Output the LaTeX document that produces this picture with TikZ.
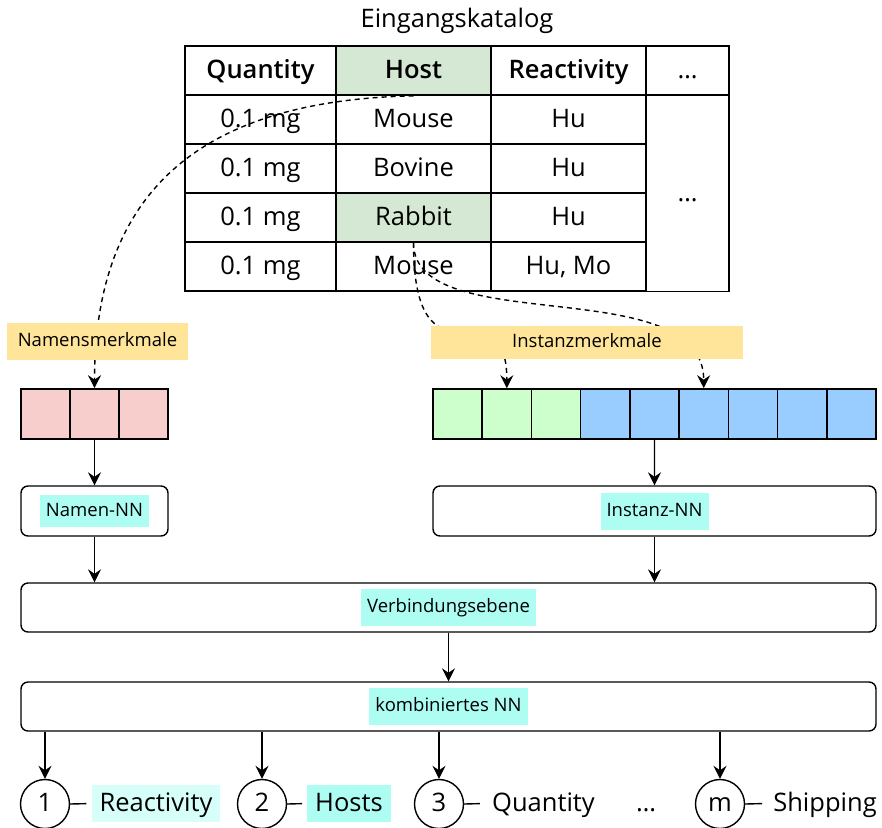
\documentclass[tikz,border=0pt]{standalone}
\usepackage{fontspec}
\setmainfont{Open Sans}
% semibold face for the table header, with bold as fallback
\IfFontExistsTF{Open Sans SemiBold}
  {\newfontfamily\headfont{Open Sans SemiBold}}
  {\IfFontExistsTF{Open Sans Semibold}
    {\newfontfamily\headfont{Open Sans Semibold}}
    {\newcommand\headfont{\bfseries}}}
\usetikzlibrary{arrows.meta}
\definecolor{hostgreen}{HTML}{D5E8D4}
\definecolor{featyellow}{HTML}{FFE599}
\definecolor{namepink}{HTML}{F8CECC}
\definecolor{instgreen}{HTML}{CCFFCC}
\definecolor{instblue}{HTML}{99CCFF}
\definecolor{tagcyan}{HTML}{AEFDF3}
\definecolor{tagpale}{HTML}{D6FFFA}
\begin{document}
\begin{tikzpicture}[x=1pt,y=-1pt,
  big/.style={font=\fontsize{25.5}{30}\selectfont, text height=19pt, text depth=4pt},
  small/.style={font=\fontsize{18.5}{22}\selectfont, text height=13.8pt, text depth=3pt},
  cell/.style={draw, line width=1.6pt, minimum height=49pt, inner sep=0pt, big},
  head/.style={cell, font=\fontsize{25.5}{30}\selectfont\headfont},
  vec/.style={draw, line width=1.6pt, minimum width=49.2pt, minimum height=50pt, inner sep=0pt},
  feat/.style={fill=featyellow, inner sep=0pt, small},
  nnbox/.style={draw, line width=1.4pt, rounded corners=7pt, inner sep=0pt},
  tag/.style={fill=tagcyan, inner xsep=6pt, inner ysep=0pt, minimum height=37pt, small},
  outc/.style={draw, circle, line width=1.4pt, minimum size=49pt, inner sep=0pt, big},
  outl/.style={inner xsep=8pt, inner ysep=0pt, minimum height=37pt, big},
  arr/.style={line width=1.4pt, -{Stealth[length=13pt, width=13pt, inset=4.5pt]}},
  darr/.style={arr, dash pattern=on 5pt off 4pt},
  dline/.style={line width=1.4pt}
]
\useasboundingbox (0,0) rectangle (882,827);

% input catalogue
\node[big] (title) at (457,20) {Eingangskatalog};

\node[head, minimum width=151pt] (hq) at (260.5,70.5) {Quantity};
\node[head, minimum width=155pt, fill=hostgreen] (hh) at (413.5,70.5) {Host};
\node[head, minimum width=155pt] (hr) at (568.5,70.5) {Reactivity};
\node[cell, minimum width=83pt] (he) at (687.5,70.5) {…};

\node[cell, minimum width=151pt] (q1) at (260.5,119.5) {0.1 mg};
\node[cell, minimum width=155pt] (h1) at (413.5,119.5) {Mouse};
\node[cell, minimum width=155pt] (r1) at (568.5,119.5) {Hu};
\node[cell, minimum width=151pt] (q2) at (260.5,168.5) {0.1 mg};
\node[cell, minimum width=155pt] (h2) at (413.5,168.5) {Bovine};
\node[cell, minimum width=155pt] (r2) at (568.5,168.5) {Hu};
\node[cell, minimum width=151pt] (q3) at (260.5,217.5) {0.1 mg};
\node[cell, minimum width=155pt, fill=hostgreen] (h3) at (413.5,217.5) {Rabbit};
\node[cell, minimum width=155pt] (r3) at (568.5,217.5) {Hu};
\node[cell, minimum width=151pt] (q4) at (260.5,266.5) {0.1 mg};
\node[cell, minimum width=155pt] (h4) at (413.5,266.5) {Mouse};
\node[cell, minimum width=155pt] (r4) at (568.5,266.5) {Hu, Mo};
\node[cell, minimum width=83pt, minimum height=196pt] (emore) at (687.5,193.5) {…};

% name feature vector
\foreach \i in {1,2,3}
  \node[vec, minimum width=49pt, fill=namepink] (p\i) at ({21+49*(\i-0.5)},414) {};

% instance feature vector
\foreach \i in {1,2,3}
  \node[vec, fill=instgreen] (g\i) at ({433+49.222*(\i-0.5)},414) {};
\foreach \i in {4,...,9}
  \node[vec, fill=instblue] (g\i) at ({433+49.222*(\i-0.5)},414) {};

% feature extraction paths
\draw[darr] (hh.south) .. controls (220,100) and (94.5,175) .. (p2.north);
\draw[darr] (h3.south) .. controls (413.5,400) and (506.8,280) .. (g2.north);
\draw[darr] (h3.south) .. controls (413.5,340) and (703.7,270) .. (g6.north);

\node[feat, minimum width=181pt, minimum height=37pt] (nlab) at (97.5,341.5) {Namensmerkmale};
\node[feat, minimum width=312pt, minimum height=33pt] (ilab) at (587,342.5) {Instanzmerkmale};

% networks
\node[nnbox, minimum width=147pt, minimum height=50pt] (nn1) at (94.5,511) {};
\node[tag, minimum height=32pt] (nn1t) at (nn1) {Namen-NN};
\node[nnbox, minimum width=443pt, minimum height=50pt] (nn2) at (654.5,511) {};
\node[tag] (nn2t) at (nn2) {Instanz-NN};
\node[nnbox, minimum width=855pt, minimum height=49pt] (verb) at (448.5,607.5) {};
\node[tag] (verbt) at (verb) {Verbindungsebene};
\node[nnbox, minimum width=855pt, minimum height=49pt] (komb) at (448.5,706.5) {};
\node[tag] (kombt) at (komb) {kombiniertes NN};

\draw[arr] (p2.south) -- (nn1.north);
\draw[arr] (g5.south) -- (nn2.north);
\draw[arr] (nn1.south) -- (nn1.south |- verb.north);
\draw[arr] (nn2.south) -- (nn2.south |- verb.north);
\draw[arr] (verb.south) -- (komb.north);

% outputs
\node[outc] (o1) at (45,804) {1};
\node[outc] (o2) at (262,804) {2};
\node[outc] (o3) at (439,804) {3};
\node[outc] (om) at (720,804) {m};

\node[outl, fill=tagpale] (l1) at (156,803.5) {Reactivity};
\node[outl, fill=tagcyan] (l2) at (349,803.5) {Hosts};
\node[outl] (l3) at (543.5,803.5) {Quantity};
\node[big] (ldots) at (646,803.5) {…};
\node[outl] (lm) at (825,803.5) {Shipping};

\foreach \c in {o1,o2,o3,om}
  \draw[arr] (\c |- komb.south) -- (\c.north);

\draw[dline, shorten >=5pt] (o1.east) -- (l1.west);
\draw[dline, shorten >=5pt] (o2.east) -- (l2.west);
\draw[dline, shorten >=4pt] (o3.east) -- (l3.west);
\draw[dline, shorten >=3pt] (om.east) -- (lm.west);
\end{tikzpicture}
\end{document}
